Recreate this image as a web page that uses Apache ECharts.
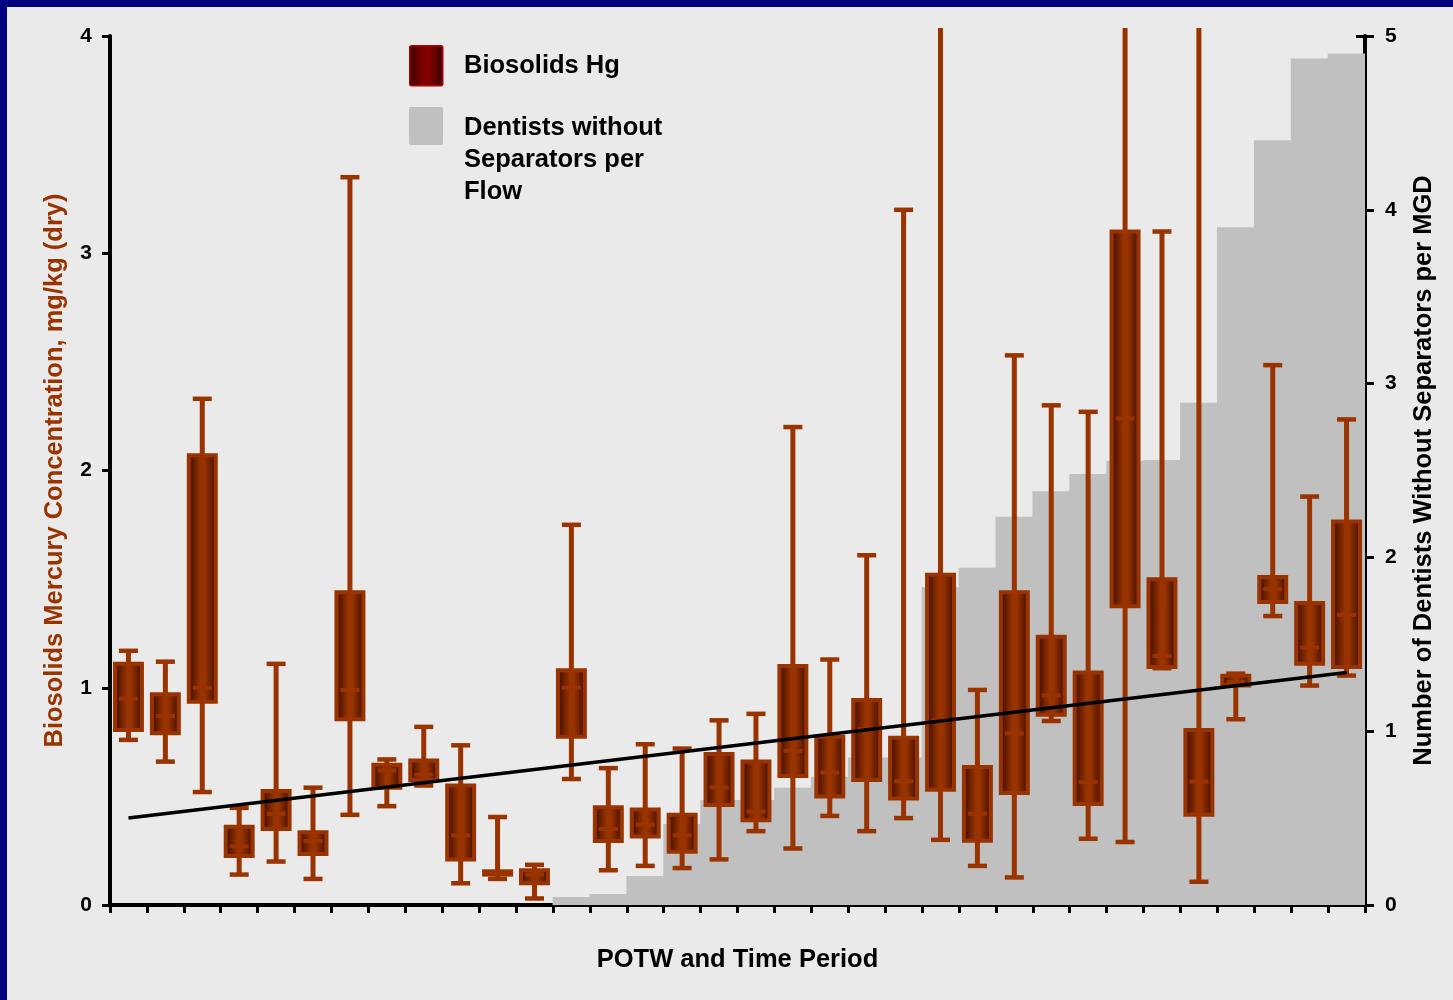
<!DOCTYPE html>
<html><head><meta charset="utf-8">
<script src="https://cdn.jsdelivr.net/npm/echarts@6/dist/echarts.min.js"></script>
<style>
html,body{margin:0;padding:0;background:#000080;width:1453px;height:1000px;overflow:hidden;}
#chart{position:absolute;left:7px;top:7px;width:1446px;height:993px;background:#eaeaea;}
</style></head><body><div id="chart"></div>
<script>
// ---------- data ----------
const categories = ['1','2','3','4','5','6','7','8','9','10','11','12','13','14','15','16','17',
  '18','19','20','21','22','23','24','25','26','27','28','29','30','31','32','33','34'];
// Biosolids Hg (mg/kg dry): whisker high, upper quartile, median, lower quartile, whisker low
const whiskerHigh = [1.17,1.12,2.33,0.447,1.11,0.54,3.35,0.67,0.82,0.735,0.405,0.185,1.75,0.63,0.74,0.72,0.85,
  0.88,2.20,1.13,1.61,3.20,4.50,0.99,2.53,2.30,2.27,4.50,3.10,4.50,1.065,2.485,1.88,2.235];
const upperQuartile = [1.11,0.97,2.07,0.36,0.525,0.335,1.44,0.645,0.665,0.55,0.155,0.16,1.08,0.45,0.44,0.415,0.695,
  0.66,1.10,0.775,0.944,0.77,1.52,0.635,1.44,1.235,1.07,3.10,1.50,0.806,1.055,1.51,1.39,1.765];
const medianHg = [0.95,0.87,1.00,0.27,0.42,0.295,0.99,0.62,0.60,0.32,0.147,0.14,1.00,0.35,0.37,0.32,0.54,
  0.43,0.71,0.61,0.81,0.57,0.85,0.42,0.79,0.965,0.565,2.24,1.146,0.567,1.026,1.455,1.185,1.335];
const lowerQuartile = [0.805,0.79,0.935,0.225,0.35,0.235,0.855,0.54,0.575,0.21,0.14,0.10,0.775,0.295,0.315,0.245,0.46,
  0.39,0.594,0.50,0.575,0.49,0.53,0.296,0.515,0.876,0.465,1.375,1.095,0.415,1.01,1.395,1.11,1.095];
const whiskerLow = [0.76,0.66,0.52,0.14,0.20,0.12,0.415,0.455,0.55,0.10,0.12,0.03,0.58,0.16,0.18,0.17,0.21,
  0.34,0.26,0.41,0.34,0.40,0.30,0.18,0.127,0.847,0.305,0.29,1.09,0.107,0.855,1.33,1.01,1.056];
// Dentists without separators per MGD (right axis)
const dentistsPerFlow = ['-','-','-','-','-','-','-','-','-','-','-','-',0.046,0.063,0.167,0.466,0.604,
  0.604,0.675,0.738,0.848,0.848,1.83,1.94,2.234,2.38,2.48,2.555,2.56,2.89,3.90,4.40,4.87,4.90];
// trend line endpoints (left axis)
const trendCategories = [0, 33];
const trendValues = [0.40, 1.07];
const leftTicks = [0, 1, 2, 3, 4];
const rightTicks = [0, 1, 2, 3, 4, 5];

// ---------- style ----------
const FONT = '"Liberation Sans", Arial, sans-serif';
const ORANGE = '#993300';
const LEFT_MAX = 4;
const WHISKER_CLIP = 4.037;

const boxData = categories.map((c, i) => [i, whiskerHigh[i], upperQuartile[i], medianHg[i], lowerQuartile[i], whiskerLow[i]]);
const trendData = trendCategories.map((c, k) => [c, trendValues[k]]);

function boxFill() {
  return new echarts.graphic.LinearGradient(0, 0, 1, 0, [
    {offset: 0, color: '#3a0f00'},
    {offset: 0.18, color: '#5a1800'},
    {offset: 0.45, color: '#993300'},
    {offset: 0.58, color: '#993300'},
    {offset: 0.85, color: '#5a1800'},
    {offset: 1, color: '#3a0f00'}
  ]);
}

function renderBox(params, api) {
  const i = api.value(0);
  const hi = api.value(1), up = api.value(2), md = api.value(3), lq = api.value(4), lo = api.value(5);
  const band = api.size([1, 0])[0];
  const boxW = band * 0.73, capW = band * 0.515;
  const clipped = hi > LEFT_MAX;
  const pHi = api.coord([i, clipped ? WHISKER_CLIP : hi]);
  const pQ3 = api.coord([i, up]);
  const pMd = api.coord([i, md]);
  const pQ1 = api.coord([i, lq]);
  const pLo = api.coord([i, lo]);
  const x = pMd[0];
  const ch = [];
  ch.push({type: 'line', shape: {x1: x, y1: pHi[1], x2: x, y2: pLo[1]}, style: {stroke: ORANGE, lineWidth: 5}});
  ch.push({type: 'line', shape: {x1: x - capW / 2, y1: pLo[1], x2: x + capW / 2, y2: pLo[1]}, style: {stroke: ORANGE, lineWidth: 4.5}});
  if (!clipped) {
    ch.push({type: 'line', shape: {x1: x - capW / 2, y1: pHi[1], x2: x + capW / 2, y2: pHi[1]}, style: {stroke: ORANGE, lineWidth: 4.5}});
  }
  ch.push({type: 'rect', shape: {x: x - boxW / 2, y: pQ3[1], width: boxW, height: Math.max(pQ1[1] - pQ3[1], 1)},
    style: {fill: boxFill(), stroke: ORANGE, lineWidth: 4}});
  ch.push({type: 'line', shape: {x1: x - capW / 2, y1: pMd[1], x2: x + capW / 2, y2: pMd[1]}, style: {stroke: ORANGE, lineWidth: 4}});
  return {type: 'group', children: ch};
}

const chart = echarts.init(document.getElementById('chart'), null, {renderer: 'canvas'});
const axisLabelStyle = {color: '#000', fontFamily: FONT, fontWeight: 'bold', fontSize: 21};
const option = {
  backgroundColor: '#eaeaea',
  animation: false,
  grid: {left: 103, right: 88, top: 29, bottom: 95, containLabel: false},
  xAxis: {
    type: 'category', data: categories, boundaryGap: true,
    name: 'POTW and Time Period', nameLocation: 'middle', nameGap: 42,
    nameTextStyle: {color: '#000', fontFamily: FONT, fontWeight: 'bold', fontSize: 25.5},
    axisLine: {lineStyle: {color: '#000', width: 4}},
    axisTick: {show: true, interval: 0, length: 8, lineStyle: {color: '#000', width: 3}},
    axisLabel: {show: false},
    splitLine: {show: false}
  },
  yAxis: [
    {
      type: 'value', position: 'left', min: leftTicks[0], max: leftTicks[leftTicks.length - 1], interval: 1,
      name: 'Biosolids Mercury Concentration, mg/kg (dry)', nameLocation: 'middle', nameRotate: 90, nameGap: 42,
      nameTextStyle: {color: ORANGE, fontFamily: FONT, fontWeight: 'bold', fontSize: 25.5},
      axisLine: {show: true, lineStyle: {color: '#000', width: 4}},
      axisTick: {show: true, length: 8, lineStyle: {color: '#000', width: 3}},
      axisLabel: Object.assign({margin: 18}, axisLabelStyle),
      splitLine: {show: false}
    },
    {
      type: 'value', position: 'right', min: rightTicks[0], max: rightTicks[rightTicks.length - 1], interval: 1,
      name: 'Number of Dentists Without Separators per MGD', nameLocation: 'middle', nameRotate: 90, nameGap: 46,
      nameTextStyle: {color: '#000', fontFamily: FONT, fontWeight: 'bold', fontSize: 25.5},
      axisLine: {show: true, lineStyle: {color: '#000', width: 4}},
      axisTick: {show: true, length: 9, lineStyle: {color: '#000', width: 3}},
      axisLabel: Object.assign({margin: 20}, axisLabelStyle),
      splitLine: {show: false}
    },
    {
      type: 'value', position: 'right', min: rightTicks[0], max: rightTicks[rightTicks.length - 1], interval: 1,
      axisLine: {show: false},
      axisTick: {show: true, inside: true, length: 9, lineStyle: {color: '#000', width: 3}},
      axisLabel: {show: false},
      splitLine: {show: false}
    }
  ],
  series: [
    {
      name: 'Dentists without Separators per Flow', type: 'bar', yAxisIndex: 1,
      data: dentistsPerFlow, barWidth: '102%', barCategoryGap: '0%',
      itemStyle: {color: '#c0c0c0'}, z: 1, silent: true
    },
    {
      name: 'Biosolids Hg', type: 'custom', yAxisIndex: 0, data: boxData,
      renderItem: renderBox, clip: false, z: 3, silent: true
    },
    {
      name: 'Trend', type: 'line', yAxisIndex: 0, data: trendData,
      symbol: 'none', lineStyle: {color: '#000', width: 3.5}, z: 5, silent: true
    }
  ],
  graphic: [
    {type: 'rect', left: 402, top: 38, shape: {width: 33, height: 40, r: 2},
      style: {fill: new echarts.graphic.LinearGradient(0, 0, 1, 0, [
        {offset: 0, color: '#3a0000'}, {offset: 0.4, color: '#800000'}, {offset: 0.6, color: '#800000'}, {offset: 1, color: '#3a0000'}]),
        stroke: '#b00000', lineWidth: 1.5}},
    {type: 'text', left: 457, top: 46, style: {text: 'Biosolids Hg', fill: '#000',
      font: 'bold 25.5px ' + FONT}},
    {type: 'rect', left: 402, top: 100, shape: {width: 34, height: 38, r: 2}, style: {fill: '#c0c0c0'}},
    {type: 'text', left: 457, top: 105, style: {text: 'Dentists without\nSeparators per\nFlow', fill: '#000',
      font: 'bold 25.5px ' + FONT, lineHeight: 32}}
  ]
};
chart.setOption(option);
</script></body></html>
